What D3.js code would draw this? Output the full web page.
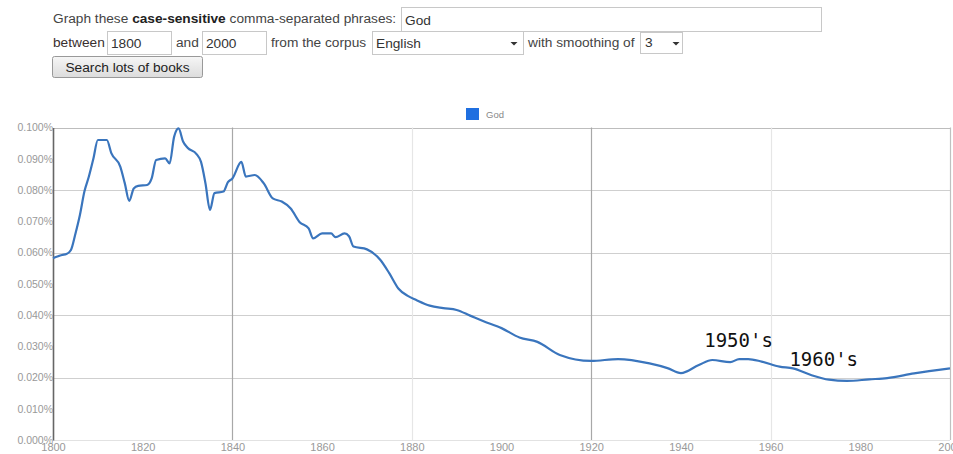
<!DOCTYPE html>
<html><head><meta charset="utf-8">
<script src="https://cdn.jsdelivr.net/npm/d3@7"></script>
<style>
html,body{margin:0;padding:0;background:#fff;}
svg{display:block;}
</style></head>
<body>
<svg id="c" width="953" height="454"></svg>
<script>
// ---- data ----
const years = [1800,1802,1803,1804,1805,1806,1807,1808,1809,1810,1812,1813,1815,1816,1817,1818,1819,1821,1822,1823,1825,1826,1827,1828,1829,1830,1832,1833,1834,1835,1836,1838,1839,1840,1842,1843,1845,1847,1849,1851,1853,1855,1857,1858,1860,1862,1863,1865,1866,1867,1870,1873,1875,1877,1879,1881,1884,1887,1890,1893,1896,1900,1904,1908,1913,1920,1926,1933,1937,1940,1944,1947,1951,1953,1955,1958,1962,1965,1969,1973,1977,1982,1986,1992,2000];
const godValues = [0.0582,0.0592,0.0595,0.0608,0.0660,0.0720,0.0795,0.0843,0.0900,0.0960,0.0960,0.0918,0.0875,0.0822,0.0765,0.0805,0.0813,0.0816,0.0837,0.0896,0.0901,0.0885,0.0970,0.0997,0.0955,0.0935,0.0915,0.0890,0.0821,0.0736,0.0790,0.0795,0.0825,0.0837,0.0890,0.0843,0.0848,0.0821,0.0773,0.0763,0.0741,0.0697,0.0677,0.0645,0.0661,0.0661,0.0649,0.0661,0.0652,0.0619,0.0610,0.0576,0.0533,0.0485,0.0462,0.0448,0.0430,0.0422,0.0416,0.0398,0.0380,0.0358,0.0328,0.0314,0.0272,0.0253,0.0259,0.0245,0.0230,0.0214,0.0240,0.0256,0.0249,0.0259,0.0259,0.0251,0.0235,0.0229,0.0208,0.0193,0.0189,0.0194,0.0198,0.0213,0.0229];
const seriesName = "God";
const yTicks = [0,0.01,0.02,0.03,0.04,0.05,0.06,0.07,0.08,0.09,0.10];
const xTicks = [1800,1820,1840,1860,1880,1900,1920,1940,1960,1980,2000];
const annotations = [{label:"1950's", year:1945.2, yPos:347}, {label:"1960's", year:1964.2, yPos:366}];

const svg = d3.select("#c");
const FONT = "'Liberation Sans', Arial, sans-serif";

// ---- form header ----
const form = svg.append("g").attr("font-family", FONT).attr("font-size", 13.7).attr("fill", "#444");
const t1 = form.append("text").attr("x", 53).attr("y", 23);
t1.append("tspan").text("Graph these ");
t1.append("tspan").attr("font-weight", "bold").attr("fill","#222").text("case-sensitive");
t1.append("tspan").text(" comma-separated phrases:");
function box(x, y, w, h, val, tx) {
  form.append("rect").attr("x", x+0.5).attr("y", y+0.5).attr("width", w).attr("height", h)
    .attr("fill", "#fff").attr("stroke", "#c8c8c8");
  form.append("text").attr("x", tx).attr("y", y + h - 6).attr("fill", "#333").text(val);
}
function arrow(x, y) {
  form.append("path").attr("d", `M${x-3.5},${y} L${x+3.5},${y} L${x},${y+3.5} Z`).attr("fill", "#333");
}
box(401, 7, 420, 24, "God", 405);
form.append("text").attr("x", 53).attr("y", 47).attr("fill","#3a3030").text("between");
box(107, 31, 64, 23, "1800", 111);
form.append("text").attr("x", 176).attr("y", 47).attr("fill","#444").text("and");
box(202, 31, 64, 23, "2000", 206);
form.append("text").attr("x", 271).attr("y", 47).text("from the corpus");
box(372, 31, 151, 23, "English", 376);
arrow(514, 42);
form.append("text").attr("x", 528).attr("y", 47).text("with smoothing of");
box(640, 32, 42, 21, "3", 645);
arrow(676, 42);
const grad = svg.append("defs").append("linearGradient").attr("id","bg").attr("x1",0).attr("x2",0).attr("y1",0).attr("y2",1);
grad.append("stop").attr("offset","0%").attr("stop-color","#f6f6f6");
grad.append("stop").attr("offset","100%").attr("stop-color","#dcdcdc");
form.append("rect").attr("x", 52.5).attr("y", 56.5).attr("width", 150).attr("height", 21).attr("rx",2)
  .attr("fill","url(#bg)").attr("stroke","#999");
form.append("text").attr("x", 127.5).attr("y", 72).attr("text-anchor","middle").attr("fill","#222").text("Search lots of books");

// ---- chart ----
const x = d3.scaleLinear().domain([1800, 2000]).range([53, 950]);
const y = d3.scaleLinear().domain([0, 0.10]).range([440, 127.5]);

// legend
svg.append("rect").attr("x", 466).attr("y", 108).attr("width", 13).attr("height", 12).attr("fill", "#1f6fe0");
svg.append("text").attr("x", 486).attr("y", 118).attr("font-family", FONT).attr("font-size", 9.5).attr("fill", "#888").text(seriesName);

// horizontal gridlines (every 0.02)
const gridY = yTicks.filter((d, i) => i > 0 && i % 2 === 0);
svg.append("g").selectAll("line").data(gridY)
  .join("line").attr("x1", 53).attr("x2", 950).attr("y1", d => Math.round(y(d)) + 0.5).attr("y2", d => Math.round(y(d)) + 0.5)
  .attr("stroke", d => d >= 0.1 - 1e-9 ? "#bdbdbd" : "#cfcfcf").attr("stroke-width", 1.2);
// vertical gridlines
const vg = [1840, 1880, 1920, 1960, 2000];
svg.append("g").selectAll("line").data(vg).join("line")
  .attr("x1", d => Math.round(x(d)) + 0.5).attr("x2", d => Math.round(x(d)) + 0.5)
  .attr("y1", 127.5).attr("y2", 440)
  .attr("stroke", d => (d === 1840 || d === 1920) ? "#a8a8a8" : (d === 2000 ? "#c0c0c0" : "#e6e6e6")).attr("stroke-width", 1.2);
// bottom baseline
svg.append("line").attr("x1", 53).attr("x2", 950).attr("y1", 440.5).attr("y2", 440.5).attr("stroke", "#e2e2e2");

// y axis
const yAxis = d3.axisLeft(y).tickValues(yTicks).tickSize(0).tickPadding(0)
  .tickFormat(d => d3.format(".3f")(d) + "%");
const ga = svg.append("g").attr("transform", "translate(53,0)").call(yAxis);
ga.select(".domain").attr("stroke", "#666").attr("stroke-width", 1.6);
ga.selectAll("text").attr("font-family", FONT).attr("font-size", 10.5).attr("fill", "#999");

// x axis
const xAxis = d3.axisBottom(x).tickValues(xTicks).tickSize(0).tickPadding(3).tickFormat(d3.format("d"));
const gx = svg.append("g").attr("transform", "translate(0,440)").call(xAxis);
gx.select(".domain").remove();
gx.selectAll("text").attr("font-family", FONT).attr("font-size", 11).attr("fill", "#999");

// line
const data = years.map((yr, i) => ({yr, v: godValues[i]}));
const line = d3.line().x(d => x(d.yr)).y(d => y(d.v)).curve(d3.curveMonotoneX);
svg.append("path").datum(data).attr("d", line).attr("fill", "none")
  .attr("stroke", "#3a75bd").attr("stroke-width", 2.2).attr("stroke-linejoin", "round");

// annotations
svg.append("g").selectAll("text").data(annotations).join("text")
  .attr("x", d => x(d.year)).attr("y", d => d.yPos)
  .attr("font-family", "'DejaVu Sans Mono', monospace")
  .attr("font-size", 19).attr("fill", "#111").text(d => d.label);
</script>
</body></html>
